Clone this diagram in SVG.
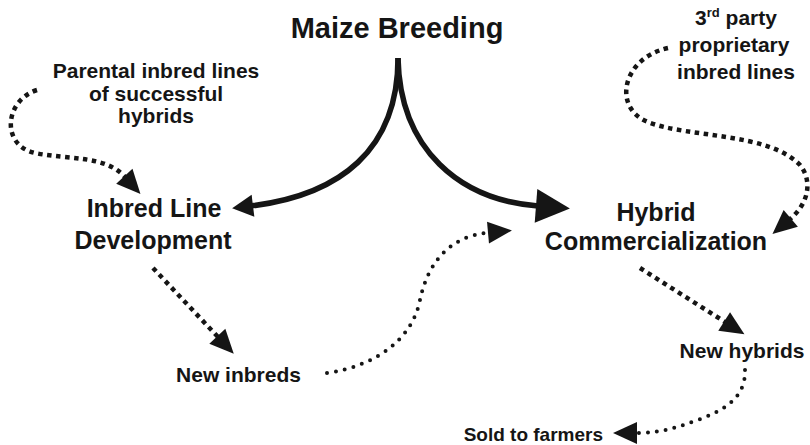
<svg xmlns="http://www.w3.org/2000/svg" width="810" height="445" viewBox="0 0 810 445">
<style>
text{font-family:"Liberation Sans",Arial,Helvetica,sans-serif;font-weight:bold;fill:#151515;text-anchor:middle}
.solid{fill:none;stroke:#151515;stroke-width:5.5}
.sq{fill:none;stroke:#151515;stroke-width:4.5;stroke-dasharray:4.5 4.5}
.rd{fill:none;stroke:#151515;stroke-width:4;stroke-dasharray:0 9;stroke-linecap:round}
</style>
<defs>
<marker id="hS" markerUnits="userSpaceOnUse" markerWidth="22" markerHeight="22" viewBox="0 0 22 22" refX="2" refY="11" orient="auto" overflow="visible"><path d="M0,0 L21,11 L0,22 z" fill="#151515"/></marker>
<marker id="hL" markerUnits="userSpaceOnUse" markerWidth="34" markerHeight="34" viewBox="0 0 34 34" refX="2" refY="17" orient="auto" overflow="visible"><path d="M0,0 L34,17 L0,34 z" fill="#151515"/></marker>
<marker id="hD" markerUnits="userSpaceOnUse" markerWidth="24" markerHeight="22" viewBox="0 0 24 22" refX="1" refY="11" orient="auto" overflow="visible"><path d="M0,0 L24,11 L0,22 z" fill="#151515"/></marker>
</defs>
<g id="connectors">
<path class="solid" d="M398,58 C398,150 340,195 251,206" marker-end="url(#hS)"/>
<path class="solid" d="M398,58 C400,150 460,200 538,206" marker-end="url(#hL)"/>
<path class="sq" d="M37,90 C5,100 0,145 35,153 C70,160 105,155 125,177" marker-end="url(#hD)"/>
<path class="sq" d="M668,48 C622,58 612,108 648,122 C688,138 768,132 800,165 C812,180 810,202 790,219" marker-end="url(#hD)"/>
<path class="sq" d="M153,268 L218,337" marker-end="url(#hD)"/>
<path class="sq" d="M640,268 L725,322" marker-end="url(#hD)"/>
<path class="rd" d="M327,373 C375,366 412,340 420,300 C428,262 450,236 489,232.5" marker-end="url(#hD)"/>
<path class="rd" d="M745,370 C746,400 720,412 695,421 C675,428 660,433 636,433" marker-end="url(#hD)"/>
</g>
<g id="maize-breeding"><text x="397" y="38" font-size="29">Maize Breeding</text></g>
<g id="parental-lines"><text font-size="21"><tspan x="156" y="78">Parental inbred lines</tspan><tspan x="156" y="100.5">of successful</tspan><tspan x="156" y="123">hybrids</tspan></text></g>
<g id="third-party"><text font-size="21"><tspan x="736" y="25">3<tspan dy="-8" font-size="13">rd</tspan><tspan dy="8"> party</tspan></tspan><tspan x="734" y="52">proprietary</tspan><tspan x="736" y="79">inbred lines</tspan></text></g>
<g id="inbred-line-development"><text font-size="25"><tspan x="154" y="217">Inbred Line</tspan><tspan x="153" y="249">Development</tspan></text></g>
<g id="hybrid-commercialization"><text font-size="25"><tspan x="656" y="221">Hybrid</tspan><tspan x="656" y="250">Commercialization</tspan></text></g>
<g id="new-inbreds"><text x="238.5" y="382" font-size="21">New inbreds</text></g>
<g id="new-hybrids"><text x="742" y="358" font-size="21">New hybrids</text></g>
<g id="sold-to-farmers"><text x="603" y="441" font-size="19" style="text-anchor:end">Sold to farmers</text></g>
</svg>
